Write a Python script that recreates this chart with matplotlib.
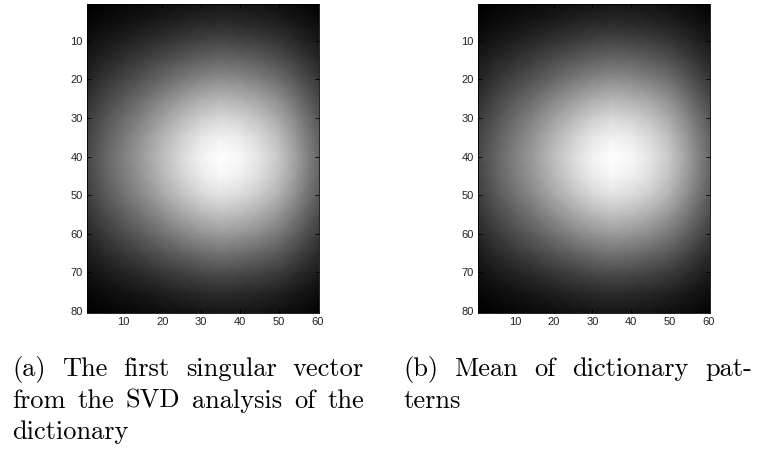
import numpy as np
import matplotlib
matplotlib.use("Agg")
import matplotlib.pyplot as plt

row_pos = [0.5, 5, 10, 15, 20, 25, 30, 35, 40, 45, 50, 55, 60, 65, 70, 75, 80.5]
row_profile = [0.12, 0.19, 0.30, 0.43, 0.57, 0.72, 0.85, 0.95, 1.00, 0.97,
               0.89, 0.76, 0.62, 0.47, 0.33, 0.21, 0.12]
col_pos = [0.5, 5, 10, 15, 20, 25, 30, 35, 40, 45, 50, 55, 60.5]
col_profile = [0.30, 0.41, 0.52, 0.63, 0.75, 0.86, 0.95, 1.00, 0.97, 0.90,
               0.79, 0.62, 0.42]

x_ticks = [10, 20, 30, 40, 50, 60]
y_ticks = [10, 20, 30, 40, 50, 60, 70, 80]

captions = [
    [["(a)", "The", "first", "singular", "vector"],
     ["from", "the", "SVD", "analysis", "of", "the"],
     ["dictionary"]],
    [["(b)", "Mean", "of", "dictionary", "pat-"],
     ["terns"]],
]

fig = plt.figure(figsize=(7.6, 4.5), dpi=100)

panel_left = [86.7 / 760, 478 / 760]
panel_w = 232.5 / 760
panel_b = 1 - 313 / 450
panel_h = 309 / 450

X, Y = np.meshgrid(col_pos, row_pos)
img = np.outer(row_profile, col_profile)

for left in panel_left:
    ax = fig.add_axes([left, panel_b, panel_w, panel_h])
    ax.pcolormesh(X, Y, img, cmap="gray", shading="gouraud", vmin=img.min(), vmax=1.0)
    ax.set_xlim(0.5, 60.5)
    ax.set_ylim(80.5, 0.5)
    ax.set_xticks(x_ticks)
    ax.set_yticks(y_ticks)
    ax.tick_params(direction="in", length=3, width=0.6, top=True, right=True,
                   labelsize=8, pad=3, colors="black")
    for lbl in ax.get_xticklabels() + ax.get_yticklabels():
        lbl.set_fontfamily("Liberation Sans")
        lbl.set_color("#222222")
    for s in ax.spines.values():
        s.set_linewidth(0.6)

# justified captions, one word at a time
renderer = fig.canvas.get_renderer()
cap_x = [(12, 364), (403, 752)]
baselines = [376, 408, 439]
cap_size = 19
for (x0, x1), lines in zip(cap_x, captions):
    for i, words in enumerate(lines):
        y = 1 - baselines[i] / 450
        texts = [fig.text(0, y, w, fontfamily="cmr10", fontsize=cap_size,
                          va="baseline", ha="left") for w in words]
        widths = [t.get_window_extent(renderer).width for t in texts]
        if i == len(lines) - 1:
            g = 7
        else:
            g = (x1 - x0 - sum(widths)) / (len(words) - 1)
        x = x0
        for t, w in zip(texts, widths):
            t.set_x(x / 760)
            x += w + g

fig.savefig("out.png", dpi=100)
